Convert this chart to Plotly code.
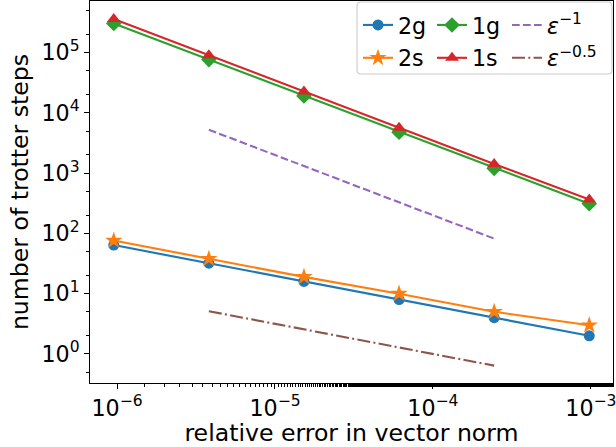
import plotly.graph_objects as go

# data
eps = [2**-20, 2**-18, 2**-16, 2**-14, 2**-12, 2**-10]
steps_2g = [64, 32, 16, 8, 4, 2]
steps_2s = [76, 38, 19, 10, 5, 3]
steps_1g = [305000, 76500, 19100, 4780, 1200, 310]
steps_1s = [362000, 90500, 22700, 5680, 1420, 365]
eps_ref = [2**-18, 2**-16, 2**-14, 2**-12]
ref_inv1 = [5243, 1311, 328, 82]
ref_inv05 = [5.12, 2.56, 1.28, 0.64]

x_tickvals = [1e-6, 1e-5, 1e-4, 1e-3]
x_ticktext = ["10<sup>−6</sup>", "10<sup>−5</sup>", "10<sup>−4</sup>", "10<sup>−3</sup>"]
y_tickvals = [1, 10, 100, 1e3, 1e4, 1e5]
y_ticktext = ["10<sup>0</sup>", "10<sup>1</sup>", "10<sup>2</sup>", "10<sup>3</sup>",
              "10<sup>4</sup>", "10<sup>5</sup>"]

FONT = "DejaVu Sans"
FS = 22.2
FS_T = 23.6
LW = 2.1

fig = go.Figure()

def add(y, x, name, color, symbol, size, legend, group, dash=None, marker=True):
    fig.add_trace(go.Scatter(
        x=x, y=y, name=name,
        mode="lines+markers" if marker else "lines",
        line=dict(color=color, width=LW, dash=dash),
        marker=dict(symbol=symbol, size=size, color=color, line=dict(width=0)) if marker else None,
        legend=legend, legendgroup=group,
    ))

add(steps_2g, eps, "2g", "#1f77b4", "circle", 11, "legend", "a")
add(steps_2s, eps, "2s", "#ff7f0e", "star", 13, "legend", "b")
add(steps_1g, eps, "1g", "#2ca02c", "diamond", 12, "legend2", "c")
add(steps_1s, eps, "1s", "#d62728", "triangle-up", 12, "legend2", "d")
add(ref_inv1, eps_ref, "<i>ε</i><sup>−1</sup>", "#9467bd", None, 0, "legend3", "e",
    dash="7.7px,3.3px", marker=False)
add(ref_inv05, eps_ref, "<i>ε</i><sup>−0.5</sup>", "#8c564b", None, 0, "legend3", "f",
    dash="13px,3.3px,2px,3.3px", marker=False)

L, R, T, B = 90, 3, 1, 64
W, H = 616, 447
pw, ph = W - L - R, H - T - B

def px(xp):
    return (xp - L) / pw

def py(yp):
    return (H - B - yp) / ph

leg_common = dict(
    bgcolor="rgba(0,0,0,0)", borderwidth=0, orientation="v",
    font=dict(family=FONT, size=FS, color="black"),
    traceorder="grouped", tracegroupgap=1, yanchor="top", xanchor="left",
    itemwidth=30,
)
ly = py(4)
fig.update_layout(
    legend=dict(x=px(358), y=ly, **leg_common),
    legend2=dict(x=px(432), y=ly, **leg_common),
    legend3=dict(x=px(507), y=ly, **leg_common),
)

# legend frame (rounded)
x0, x1, y0, y1 = 357, 612, 2, 74
r = 4
path = (f"M {px(x0 + r)},{py(y0)} L {px(x1 - r)},{py(y0)} Q {px(x1)},{py(y0)} {px(x1)},{py(y0 + r)} "
        f"L {px(x1)},{py(y1 - r)} Q {px(x1)},{py(y1)} {px(x1 - r)},{py(y1)} "
        f"L {px(x0 + r)},{py(y1)} Q {px(x0)},{py(y1)} {px(x0)},{py(y1 - r)} "
        f"L {px(x0)},{py(y0 + r)} Q {px(x0)},{py(y0)} {px(x0 + r)},{py(y0)} Z")
fig.add_shape(type="path", path=path, xref="paper", yref="paper",
              line=dict(color="#cccccc", width=1.1), fillcolor="rgba(255,255,255,0.8)",
              layer="above")

axis_common = dict(
    type="log",
    showgrid=False, zeroline=False,
    showline=True, linecolor="black", linewidth=1.1, mirror=True,
    ticks="outside", ticklen=4.9, tickwidth=1.1, tickcolor="black",
    tickfont=dict(family=FONT, size=FS, color="black"),
    ticklabeloverflow="allow",
    minor=dict(ticks="outside", ticklen=2.8, tickwidth=0.8, tickcolor="black", showgrid=False),
)

fig.update_xaxes(range=[-6.171, -2.860], tickvals=x_tickvals, ticktext=x_ticktext,
                 title=dict(text="relative error in vector norm",
                            font=dict(family=FONT, size=FS_T, color="black"), standoff=2),
                 **axis_common)
fig.update_yaxes(range=[-0.482, 5.856], tickvals=y_tickvals, ticktext=y_ticktext,
                 title=dict(text="number of trotter steps",
                            font=dict(family=FONT, size=FS_T, color="black"), standoff=6),
                 **axis_common)

fig.update_layout(
    width=W, height=H,
    margin=dict(l=L, r=R, t=T, b=B, autoexpand=False),
    plot_bgcolor="white", paper_bgcolor="white",
    font=dict(family=FONT, size=FS, color="black"),
    showlegend=True,
)

fig.write_html("out.html", config={"displayModeBar": False},
               post_script="document.body.style.margin='0';document.body.style.overflow='hidden';")
